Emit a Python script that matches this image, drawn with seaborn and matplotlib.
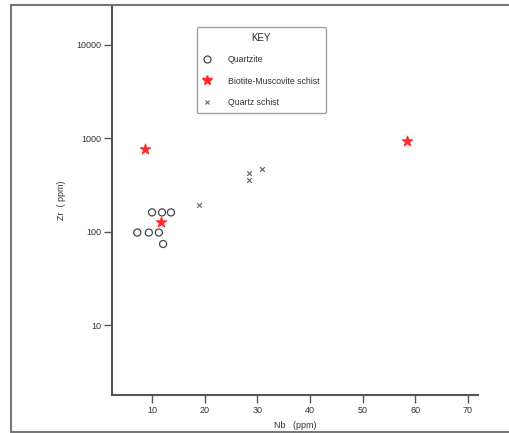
import matplotlib
matplotlib.use("Agg")
import matplotlib.pyplot as plt
from matplotlib.lines import Line2D
import pandas as pd
import seaborn as sns

# Dados: Nb (ppm) vs Zr (ppm)
rock = ['Quartzite'] * 7 + ['Biotite-Muscovite schist'] * 3 + ['Quartz schist'] * 4
nb = [10.0, 11.9, 13.6, 7.2, 9.4, 11.3, 12.1,
      8.7, 11.7, 58.4,
      18.9, 28.4, 28.4, 30.9]
zr = [161, 161, 161, 98, 98, 98, 74,
      770, 127, 930,
      191, 420, 356, 464]

x_ticks = [10, 20, 30, 40, 50, 60, 70]
y_ticks = [10, 100, 1000, 10000]

data = pd.DataFrame({'Nb': nb, 'Zr': zr, 'Rock': rock})

sns.set_style('white')
plt.rcParams['font.family'] = ['Liberation Sans', 'DejaVu Sans']

fig = plt.figure(figsize=(5.09, 4.33), dpi=100)
ax = fig.add_axes([112 / 509, 1 - 395 / 433, 366 / 509, 390 / 433])

estilos = {
    'Quartzite': dict(marker='o', s=26, facecolor='none', edgecolor='#444444', linewidth=0.9),
    'Biotite-Muscovite schist': dict(marker='*', s=60, color='#ff2a2a', edgecolor='#ff2a2a', linewidth=0.8),
    'Quartz schist': dict(marker='x', s=12, color='#666666', linewidth=0.8),
}
for nome, kw in estilos.items():
    sub = data[data['Rock'] == nome]
    sns.scatterplot(x='Nb', y='Zr', data=sub, ax=ax, legend=False, **kw)

ax.set_yscale('log')
ax.set_xlim(2.4, 71.9)
ax.set_ylim(1.8, 26500)
ax.set_xticks(x_ticks)
ax.set_xticklabels([str(t) for t in x_ticks])
ax.set_yticks(y_ticks)
ax.set_yticklabels([str(t) for t in y_ticks])
ax.minorticks_off()
ax.tick_params(axis='both', which='major', direction='out', length=6, width=1.0,
               color='#555555', labelsize=6.5, labelcolor='#333333', pad=2,
               left=True, bottom=True)

for lado in ['top', 'right']:
    ax.spines[lado].set_visible(False)
for lado in ['left', 'bottom']:
    ax.spines[lado].set_color('#555555')
    ax.spines[lado].set_linewidth(1.5)

ax.set_xlabel('Nb   (ppm)', fontsize=6.5, color='#333333', labelpad=4)
ax.set_ylabel('Zr  ( ppm)', fontsize=6.5, color='#333333', labelpad=7)

handles = [
    Line2D([], [], linestyle='none', marker='o', markersize=5, markerfacecolor='none',
           markeredgecolor='#444444', markeredgewidth=0.9),
    Line2D([], [], linestyle='none', marker='*', markersize=7, color='#ff2a2a'),
    Line2D([], [], linestyle='none', marker='x', markersize=3.5, color='#666666',
           markeredgewidth=0.8),
]
leg = ax.legend(handles, list(estilos.keys()), title='KEY', loc='upper left',
                bbox_to_anchor=(0.219, 0.955), fontsize=6.3, title_fontsize=7,
                labelspacing=1.4, handlelength=1.0, handletextpad=1.9, borderpad=0.7,
                frameon=True, fancybox=True, edgecolor='#888888')
leg.get_frame().set_linewidth(1.0)
for t in leg.get_texts():
    t.set_color('#333333')

# Moldura externa
borda = dict(color='#777777', linewidth=1.5, transform=fig.transFigure)
fig.add_artist(Line2D([11 / 509, 1], [1 - 5 / 433, 1 - 5 / 433], **borda))
fig.add_artist(Line2D([11 / 509, 11 / 509], [1 - 5 / 433, 1 - 432 / 433], **borda))
fig.add_artist(Line2D([11 / 509, 1], [1 - 432 / 433, 1 - 432 / 433], **borda))

fig.savefig('out.png', dpi=100)
